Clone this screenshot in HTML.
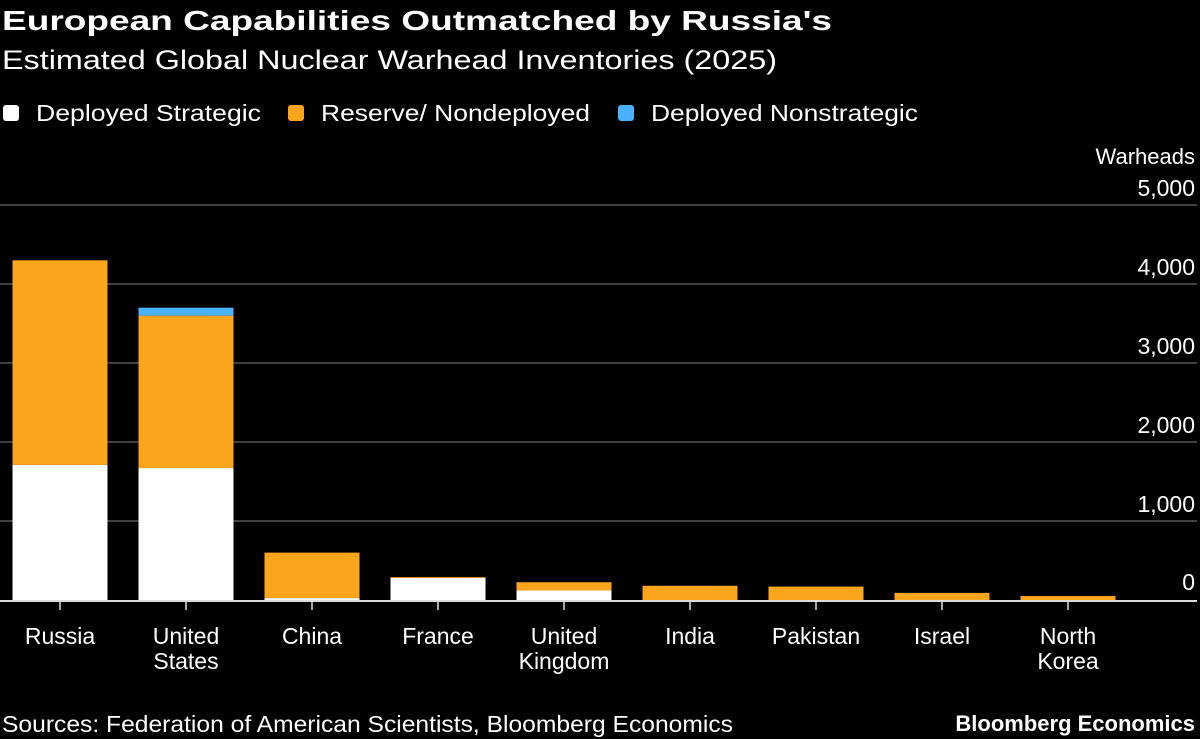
<!DOCTYPE html>
<html><head><meta charset="utf-8"><style>
body{margin:0;background:#000;width:1200px;height:739px;overflow:hidden;font-family:"Liberation Sans",sans-serif;color:#fff}
svg{display:block}
</style></head><body>
<svg id="chart" width="1200" height="739" xmlns="http://www.w3.org/2000/svg">
<text x="2" y="30" font-size="28" font-weight="bold" fill="#fff" textLength="830" lengthAdjust="spacingAndGlyphs">European Capabilities Outmatched by Russia's</text>
<text x="2" y="69" font-size="27" fill="#fff" textLength="775" lengthAdjust="spacingAndGlyphs">Estimated Global Nuclear Warhead Inventories (2025)</text>
<g font-size="23" fill="#fff">
<rect x="3" y="105" width="16" height="16" rx="3" fill="#ffffff"/>
<text x="36" y="121" textLength="225" lengthAdjust="spacingAndGlyphs">Deployed Strategic</text>
<rect x="288" y="105" width="16" height="16" rx="3" fill="#fba51c"/>
<text x="321" y="121" textLength="269" lengthAdjust="spacingAndGlyphs">Reserve/ Nondeployed</text>
<rect x="618" y="105" width="16" height="16" rx="3" fill="#4ab1ff"/>
<text x="651" y="121" textLength="267" lengthAdjust="spacingAndGlyphs">Deployed Nonstrategic</text>
</g>
<text x="1195" y="164" font-size="22" fill="#fff" text-anchor="end">Warheads</text>
<g id="grid"></g><g id="bars"></g><g id="xaxis"></g>
<text x="2" y="732" font-size="23" fill="#fff" textLength="731" lengthAdjust="spacingAndGlyphs">Sources: Federation of American Scientists, Bloomberg Economics</text>
<text x="1195" y="731" font-size="22" font-weight="bold" fill="#fff" text-anchor="end">Bloomberg Economics</text>
</svg>
<script>
const categories=[["Russia"],["United","States"],["China"],["France"],["United","Kingdom"],["India"],["Pakistan"],["Israel"],["North","Korea"]];
const deployedStrategic=[1710,1670,24,280,120,0,0,0,0];
const reserve=[2590,1930,576,10,105,180,170,90,50];
const nonstrategic=[0,100,0,0,0,0,0,0,0];
const ticks=[0,1000,2000,3000,4000,5000];
const tickLabels=["0","1,000","2,000","3,000","4,000","5,000"];
const NS="http://www.w3.org/2000/svg";
const y=v=>600-v*0.0790;
const x=i=>60+i*126;
const BW=95;
function mk(tag,attrs,parent){const e=document.createElementNS(NS,tag);for(const k in attrs)e.setAttribute(k,attrs[k]);parent.appendChild(e);return e;}
const grid=document.getElementById('grid'),bars=document.getElementById('bars'),xa=document.getElementById('xaxis');
ticks.forEach((t,i)=>{
 if(t>0){const l=mk('line',{x1:0,x2:1197,y1:y(t),y2:y(t),stroke:'#666','stroke-width':1.3},grid);
 
 }
 const tx=mk('text',{x:1195,y:y(t)-(t==0?10:9),'font-size':23,fill:'#fff','text-anchor':'end'},grid);
 tx.textContent=tickLabels[i];
 
 
});
categories.forEach((c,i)=>{
 const cx=x(i);let base=0;
 [[deployedStrategic,'#ffffff','deployed-strategic'],[reserve,'#fba51c','reserve'],[nonstrategic,'#4ab1ff','nonstrategic']].forEach(([arr,col,nm])=>{
  const v=arr[i];if(v<=0)return;
  const r=mk('rect',{x:cx-BW/2,y:y(base+v),width:BW,height:y(base)-y(base+v),fill:col},bars);
  
  
  base+=v;
 });
 const tk=mk('line',{x1:cx,x2:cx,y1:601,y2:610,stroke:'#ddd','stroke-width':1.5},xa);
 
 
 c.forEach((ln,j)=>{const t=mk('text',{x:cx,y:644+j*25,'font-size':23,fill:'#fff','text-anchor':'middle'},xa);t.textContent=ln;
 
 });
});
const ax=mk('line',{x1:0,x2:1197,y1:601,y2:601,stroke:'#ddd','stroke-width':2},xa);


</script>
</body></html>
